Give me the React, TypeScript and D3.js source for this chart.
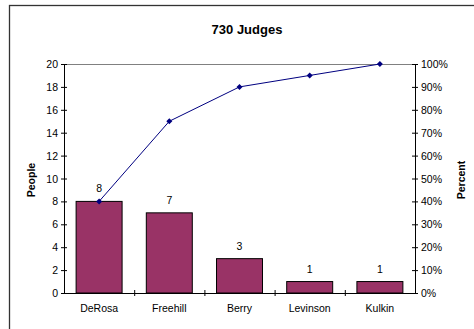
import React from "react";
import * as d3 from "d3";

const categories = ["DeRosa", "Freehill", "Berry", "Levinson", "Kulkin"];
const people = [8, 7, 3, 1, 1];
const cumulativePct = [0.4, 0.75, 0.9, 0.95, 1.0];
const leftTicks = [0, 2, 4, 6, 8, 10, 12, 14, 16, 18, 20];
const rightTicks = [0, 0.1, 0.2, 0.3, 0.4, 0.5, 0.6, 0.7, 0.8, 0.9, 1.0];

export default function App() {
  const W = 474, H = 329;
  const left = 64, right = 415, top = 64, bottom = 293;
  const font = "'Liberation Sans', Arial, sans-serif";
  const fs = 10.5;
  const x = d3.scaleBand<string>().domain(categories).range([left, right]).paddingInner(0).paddingOuter(0);
  const y = d3.scaleLinear().domain([0, 20]).range([bottom, top]);
  const yp = d3.scaleLinear().domain([0, 1]).range([bottom, top]);
  const bw = x.bandwidth() * 0.655;
  const line = d3.line<number>()
    .x((_, i) => x(categories[i])! + x.bandwidth() / 2)
    .y((d) => yp(d));
  const pct = d3.format(".0%");
  return (
    <svg width={W} height={H} style={{ position: "absolute", left: 0, top: 0 }} fontFamily={font}>
      <rect x={0} y={0} width={W} height={H} fill="white" />
      <rect x={9.5} y={5.5} width={470} height={340} fill="none" stroke="#333" strokeWidth={1.3} />
      <text x={247} y={34} textAnchor="middle" fontSize={13} fontWeight="bold">730 Judges</text>
      {/* plot top border */}
      <line x1={left} x2={right} y1={top + 0.5} y2={top + 0.5} stroke="#808080" />
      {/* bars */}
      {people.map((v, i) => {
        const cx = x(categories[i])! + x.bandwidth() / 2;
        return (
          <g key={i}>
            <rect x={cx - bw / 2} y={y(v)} width={bw} height={bottom - y(v)} fill="#993366" stroke="black" strokeWidth={1} />
            <text x={cx} y={y(v) - 9} textAnchor="middle" fontSize={fs}>{v}</text>
          </g>
        );
      })}
      {/* left axis */}
      <line x1={left + 0.5} x2={left + 0.5} y1={top} y2={bottom} stroke="black" />
      {leftTicks.map((t) => (
        <g key={t}>
          <line x1={left - 3} x2={left + 3} y1={y(t) + 0.5} y2={y(t) + 0.5} stroke="black" />
          <text x={left - 6} y={y(t) + 4} textAnchor="end" fontSize={fs}>{t}</text>
        </g>
      ))}
      {/* right axis */}
      <line x1={right + 0.5} x2={right + 0.5} y1={top} y2={bottom} stroke="black" />
      {rightTicks.map((t) => (
        <g key={t}>
          <line x1={right - 3} x2={right + 3} y1={yp(t) + 0.5} y2={yp(t) + 0.5} stroke="black" />
          <text x={right + 6} y={yp(t) + 4} textAnchor="start" fontSize={fs}>{pct(t)}</text>
        </g>
      ))}
      {/* bottom axis */}
      <line x1={left} x2={right} y1={bottom + 0.5} y2={bottom + 0.5} stroke="black" />
      {categories.map((c, i) => (
        <g key={c}>
          {i > 0 && <line x1={x(c)! + 0.5} x2={x(c)! + 0.5} y1={bottom - 3} y2={bottom + 3} stroke="black" />}
          <text x={x(c)! + x.bandwidth() / 2} y={bottom + 19} textAnchor="middle" fontSize={fs}>{c}</text>
        </g>
      ))}
      {/* line */}
      <path d={line(cumulativePct)!} fill="none" stroke="#000080" strokeWidth={1} />
      {cumulativePct.map((v, i) => {
        const cx = x(categories[i])! + x.bandwidth() / 2;
        const cy = yp(v);
        return <path key={i} d={`M${cx},${cy - 3}L${cx + 3},${cy}L${cx},${cy + 3}L${cx - 3},${cy}Z`} fill="#000080" />;
      })}
      <text transform="translate(35,180) rotate(-90)" textAnchor="middle" fontSize={fs} fontWeight="bold">People</text>
      <text transform="translate(465,180) rotate(-90)" textAnchor="middle" fontSize={fs} fontWeight="bold">Percent</text>
    </svg>
  );
}
